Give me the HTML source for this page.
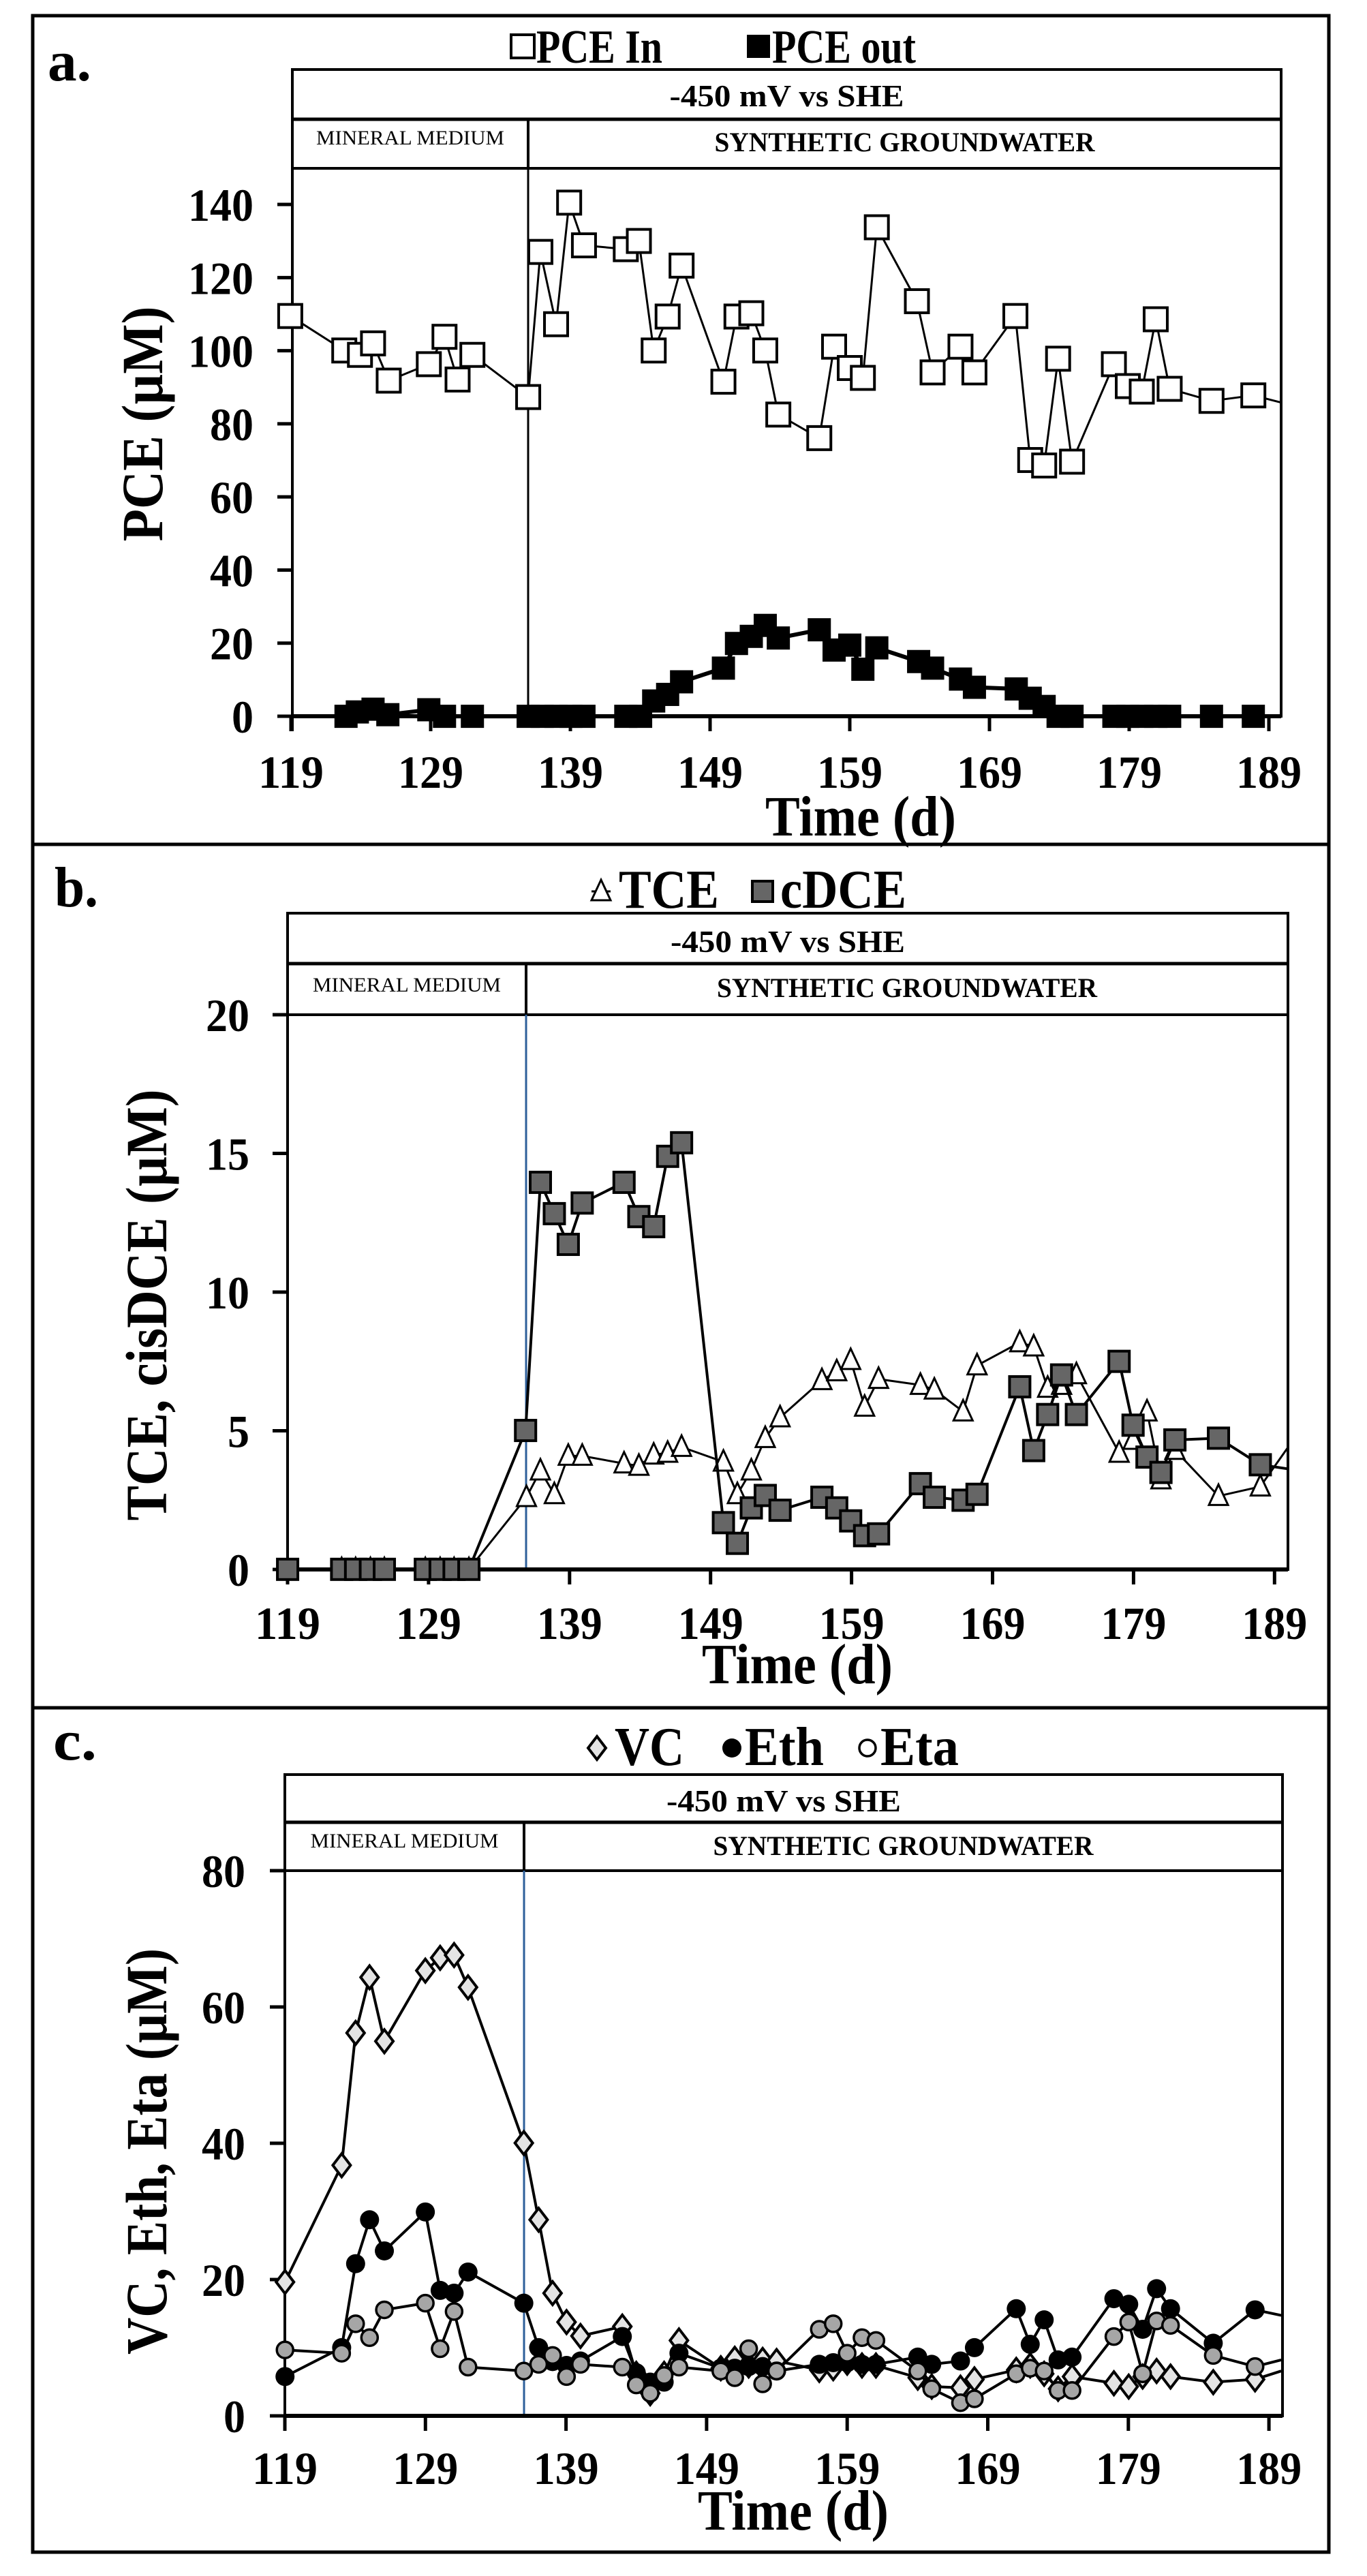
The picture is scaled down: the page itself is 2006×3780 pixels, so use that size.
<!DOCTYPE html>
<html><head><meta charset="utf-8"><style>
html,body{margin:0;padding:0;background:#fff;}
svg{display:block;}
text{font-family:"Liberation Serif",serif;font-weight:bold;fill:#000;}
</style></head><body>
<svg id="s" xmlns="http://www.w3.org/2000/svg" width="2006" height="3780" viewBox="0 0 2006 3780"></svg>
<script>
const S=document.getElementById('s');let h='';
function ln(x1,y1,x2,y2,w,c){h+=`<line x1="${x1}" y1="${y1}" x2="${x2}" y2="${y2}" stroke="${c||'#000'}" stroke-width="${w}"/>`;}
function tx(x,y,s,fs,anc,len,extra){h+=`<text x="${x}" y="${y}" font-size="${fs}" text-anchor="${anc||'middle'}"${len?` textLength="${len}" lengthAdjust="spacingAndGlyphs"`:''} ${extra||''}>${s}</text>`;}
h+=`<rect x="48" y="23" width="1902" height="3722" fill="none" stroke="#000" stroke-width="5"/>`;
ln(48,1239,1950,1239,5);ln(48,2506,1950,2506,5);
function marker(t,x,y){
 if(t=='sqw')h+=`<rect x="${x-17}" y="${y-17}" width="34" height="34" fill="#fff" stroke="#000" stroke-width="4"/>`;
 if(t=='sqb')h+=`<rect x="${x-17}" y="${y-17}" width="34" height="34" fill="#000"/>`;
 if(t=='sqg')h+=`<rect x="${x-15}" y="${y-15}" width="30" height="30" fill="#666" stroke="#000" stroke-width="4"/>`;
 if(t=='tri')h+=`<polygon points="${x},${y-17} ${x+14},${y+13} ${x-14},${y+13}" fill="#fff" stroke="#000" stroke-width="3"/>`;
 if(t=='dia')h+=`<polygon points="${x},${y-17} ${x+13},${y} ${x},${y+17} ${x-13},${y}" fill="#e4e4e4" stroke="#000" stroke-width="4"/>`;
 if(t=='cb')h+=`<circle cx="${x}" cy="${y}" r="14" fill="#000"/>`;
 if(t=='cg')h+=`<circle cx="${x}" cy="${y}" r="12" fill="#a6a6a6" stroke="#000" stroke-width="3.5"/>`;
 if(t=='cw')h+=`<circle cx="${x}" cy="${y}" r="12" fill="#fff" stroke="#000" stroke-width="3.5"/>`;
}
function series(pts,sy,oy,t,lw,right){
 const P=pts.map(p=>[p[0]*1.279,p[1]*sy+oy]);
 h+=`<polyline points="${P.map(p=>p.join(',')).join(' ')}" fill="none" stroke="#000" stroke-width="${lw}" stroke-linejoin="round"/>`;
 P.forEach((p,i)=>{if(p[0]<right-5)marker(t,p[0],p[1]);});
}
function panel(o){
 const {L,R,HT,HM,HB,Y0,x119,dx,div,divc}=o;
 h+=`<rect x="${L}" y="${HT}" width="${R-L}" height="${Y0-HT}" fill="none" stroke="#000" stroke-width="4"/>`;
 ln(L,HM,R,HM,5);ln(L,HB,R,HB,4);
 ln(div,HM,div,HB,4);ln(div,HB,div,Y0,3,divc||'#000');
 tx((L+R)/2,o.t1y,'-450 mV vs SHE',46,'middle',344);
 tx((L+div)/2,o.t2y,'MINERAL MEDIUM',30,'middle',276,'style="font-weight:normal"');
 tx((div+R)/2,o.t3y,'SYNTHETIC GROUNDWATER',40,'middle',558);
 ln(L,Y0,R,Y0,6);ln(L,HB,L,Y0+22,4);
 for(let d=119;d<=189;d+=10){const x=x119+(d-119)*dx;ln(x,Y0,x,Y0+22,5);tx(x,o.xly,''+d,68,'middle',96);}
 o.yt.forEach(([v,y])=>{ln(L-22,y,L,y,5);const s=''+v;tx(o.ylx,y+24,s,68,'end',s.length*32);});
 tx(o.tx,o.tty,'Time (d)',84,'middle',o.ttl||280);
 h+=`<text transform="translate(${o.ytx},${o.ytc}) rotate(-90)" x="0" y="0" font-size="86" text-anchor="middle" textLength="${o.ytl}" lengthAdjust="spacingAndGlyphs">${o.ytt}</text>`;
 tx(o.lx,o.ly,o.lab,84,'start',64);
}
let ya=[];for(let v=0;v<=140;v+=20)ya.push([v,1051-v*5.364]);
panel({L:429,R:1880,HT:102,HM:175,HB:247,Y0:1051,x119:427,dx:20.5,div:775,t1y:156,t2y:212,t3y:222,xly:1156,yt:ya,ylx:372,tx:1263,tty:1226,ytx:238,ytc:622,ytl:345,ytt:'PCE (µM)',lx:70,ly:118,lab:'a.'});
let yb=[];for(let v=0;v<=20;v+=5)yb.push([v,2303-v*40.7]);
panel({L:422,R:1890,HT:1340,HM:1414,HB:1489,Y0:2303,x119:422,dx:20.69,div:772,divc:'#2e5f9a',t1y:1397,t2y:1455,t3y:1463,xly:2405,yt:yb,ylx:366,tx:1170,tty:2470,ytx:244,ytc:1915,ytl:633,ytt:'TCE, cisDCE (µM)',lx:80,ly:1330,lab:'b.'});
let yc=[];for(let v=0;v<=80;v+=20)yc.push([v,3545-v*10]);
panel({L:418,R:1882,HT:2604,HM:2674,HB:2745,Y0:3545,x119:418,dx:20.63,div:769,divc:'#2e5f9a',t1y:2658,t2y:2711,t3y:2722,xly:3645,yt:yc,ylx:360,tx:1164,tty:3712,ytx:244,ytc:3157,ytl:596,ytt:'VC, Eth, Eta (µM)',lx:78,ly:2582,lab:'c.'});

const pin=[[333,577],[395,640],[413,648],[428,627],[446,695],[492,665],[510,615],[525,693],[542,648],[606,725],[620,460],[638,592],[653,370],[670,448],[718,455],[733,440],[750,640],[766,578],[782,485],[830,697],[845,578],[862,572],[878,640],[893,757],[940,800],[957,633],[975,672],[990,690],[1006,415],[1052,550],[1070,680],[1102,633],[1118,680],[1165,577],[1182,840],[1198,850],[1214,655],[1230,843],[1278,665],[1294,705],[1310,715],[1326,583],[1342,710],[1390,732],[1438,722],[1470,735]];
const pout=[[397,1308],[410,1300],[428,1295],[445,1305],[492,1296],[510,1308],[542,1308],[606,1308],[622,1308],[638,1308],[655,1308],[670,1308],[718,1308],[735,1308],[750,1280],[766,1268],[782,1245],[830,1220],[845,1175],[862,1162],[878,1142],[893,1165],[940,1150],[957,1187],[975,1178],[990,1222],[1006,1183],[1054,1208],[1070,1220],[1102,1240],[1118,1255],[1166,1258],[1182,1275],[1198,1290],[1214,1308],[1230,1308],[1278,1308],[1294,1308],[1310,1308],[1326,1308],[1342,1308],[1390,1308],[1438,1308]];
series(pout,0.8036,0,'sqb',6,1880);
series(pin,0.8036,0,'sqw',3,1880);
const z=[[330,1272],[392,1272],[408,1272],[425,1272],[441,1272],[488,1272],[505,1272],[521,1272],[538,1272]];
const tce=z.concat([[604,1150],[620,1105],[636,1145],[652,1080],[668,1080],[716,1093],[733,1097],[750,1078],[766,1075],[782,1065],[830,1090],[846,1145],[862,1105],[878,1050],[895,1015],[943,952],[960,937],[976,918],[992,997],[1008,950],[1056,960],[1072,968],[1105,1005],[1121,927],[1170,888],[1186,895],[1202,965],[1218,960],[1235,942],[1284,1075],[1300,1053],[1316,1005],[1332,1120],[1348,1070],[1398,1148],[1446,1132],[1478,1065]]);
const cdce=z.concat([[603,1037],[620,617],[636,670],[652,722],[668,652],[716,617],[733,675],[750,692],[766,573],[782,550],[830,1193],[846,1228],[862,1168],[878,1147],[895,1172],[943,1150],[960,1168],[976,1190],[992,1215],[1008,1212],[1056,1127],[1072,1150],[1105,1155],[1121,1145],[1170,963],[1186,1071],[1202,1010],[1218,943],[1235,1010],[1284,920],[1300,1028],[1316,1082],[1332,1108],[1348,1053],[1398,1050],[1446,1095],[1478,1102]]);
series(tce,0.867,1200,'tri',3,1890);
series(cdce,0.867,1200,'sqg',4,1890);
const vc=[[327,1040],[392,830],[408,592],[424,492],[441,607],[488,480],[505,457],[521,452],[537,510],[601,790],[618,928],[634,1060],[650,1112],[666,1137],[714,1120],[730,1205],[746,1240],[762,1205],[779,1145],[827,1195],[843,1178],[859,1190],[875,1180],[891,1182],[940,1198],[956,1195],[972,1185],[989,1190],[1005,1190],[1053,1212],[1069,1228],[1102,1230],[1118,1215],[1166,1198],[1182,1190],[1198,1205],[1214,1232],[1230,1210],[1278,1222],[1295,1228],[1311,1210],[1327,1200],[1343,1210],[1392,1220],[1440,1215],[1470,1200]];
const eth=[[327,1210],[392,1158],[408,1007],[424,928],[441,984],[488,914],[505,1055],[521,1060],[537,1022],[601,1078],[618,1158],[634,1183],[650,1190],[666,1182],[714,1138],[730,1203],[746,1220],[762,1220],[779,1168],[827,1195],[843,1195],[859,1192],[875,1192],[891,1200],[940,1188],[956,1185],[972,1185],[989,1188],[1005,1188],[1053,1175],[1069,1188],[1102,1182],[1118,1158],[1166,1088],[1182,1152],[1198,1108],[1214,1180],[1230,1175],[1278,1070],[1295,1080],[1311,1125],[1327,1052],[1343,1088],[1392,1150],[1440,1090],[1470,1100]];
const eta=[[327,1162],[392,1168],[408,1115],[424,1140],[441,1090],[488,1078],[505,1160],[521,1093],[537,1193],[601,1200],[618,1188],[634,1172],[650,1210],[666,1188],[714,1193],[730,1225],[746,1240],[762,1208],[779,1193],[827,1200],[843,1212],[859,1160],[875,1223],[891,1200],[940,1125],[956,1115],[972,1168],[989,1140],[1005,1145],[1053,1200],[1069,1232],[1102,1257],[1118,1250],[1166,1205],[1182,1195],[1198,1200],[1214,1235],[1230,1235],[1278,1138],[1295,1112],[1311,1205],[1327,1110],[1343,1118],[1392,1172],[1440,1192],[1470,1180]];
series(vc,0.816,2500,'dia',4,1882);
series(eth,0.816,2500,'cb',4,1882);
series(eta,0.816,2500,'cg',4,1882);
function leg(x,y,t,label,tl){ln(x-14,y,x+14,y,3);marker(t,x,y);tx(x+20,y+24,label,70,'start',tl);}
leg(767,68,'sqw','PCE In',185);leg(1113,68,'sqb','PCE out',211);
h+=`<text x="908" y="1332" font-size="80" textLength="147" lengthAdjust="spacingAndGlyphs">TCE</text><text x="1145" y="1332" font-size="80" textLength="185" lengthAdjust="spacingAndGlyphs">cDCE</text>`;
ln(868,1308,896,1308,3);marker('tri',882,1308);ln(1105,1308,1133,1308,3);marker('sqg',1119,1308);
h+=`<text x="902" y="2590" font-size="80" textLength="102" lengthAdjust="spacingAndGlyphs">VC</text><text x="1093" y="2590" font-size="80" textLength="116" lengthAdjust="spacingAndGlyphs">Eth</text><text x="1292" y="2590" font-size="80" textLength="115" lengthAdjust="spacingAndGlyphs">Eta</text>`;
marker('dia',876,2565);marker('cb',1074,2565);marker('cw',1273,2565);
S.innerHTML=h;
</script>
</body></html>
